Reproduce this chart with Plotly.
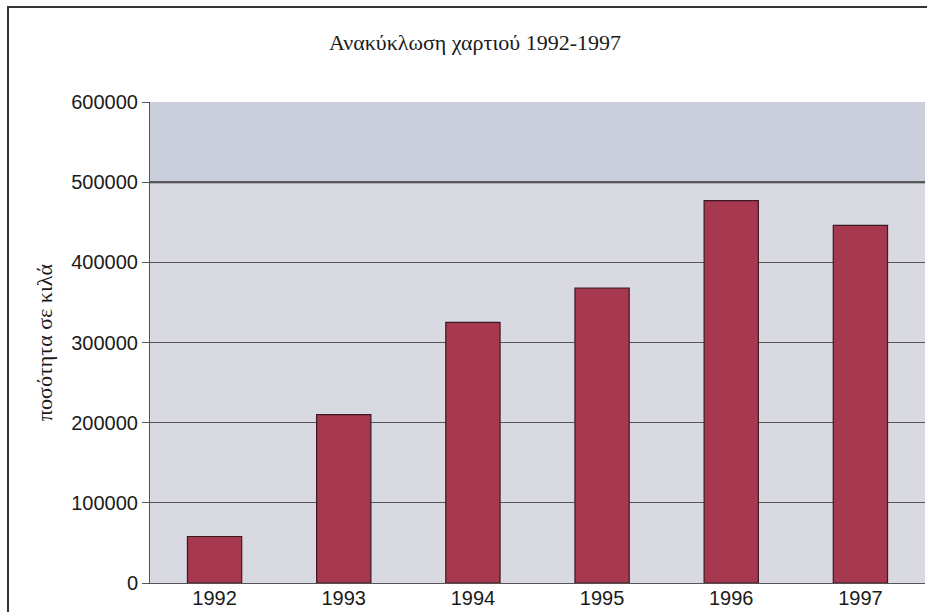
import plotly.graph_objects as go

years = ["1992", "1993", "1994", "1995", "1996", "1997"]
recycled_kg = [58000, 210000, 325000, 368000, 477000, 446000]
y_ticks = [0, 100000, 200000, 300000, 400000, 500000, 600000]

W, H = 927, 612
L, R, T, B = 150, 2, 102, 29
pw, ph = W - L - R, H - T - B

def px(x):
    return (x - L) / pw

def py(y):
    return (H - B - y) / ph

fig = go.Figure()
fig.add_trace(go.Bar(
    x=years, y=recycled_kg,
    marker=dict(color="#a6384f", line=dict(color="#3a1a22", width=1.2)),
    width=0.42,
))

shapes = [
    dict(type="rect", xref="paper", yref="y", x0=0, x1=1, y0=500000, y1=600000,
         fillcolor="#cbcfdb", line=dict(width=0), layer="below"),
    dict(type="line", xref="paper", yref="y", x0=0, x1=1, y0=500000, y1=500000,
         line=dict(color="#333333", width=2), layer="below"),
    dict(type="line", xref="paper", yref="paper", x0=px(8), x1=px(8), y0=py(7), y1=py(H + 5),
         line=dict(color="#333333", width=2)),
    dict(type="line", xref="paper", yref="paper", x0=px(7), x1=px(W + 5), y0=py(7), y1=py(7),
         line=dict(color="#333333", width=2)),
]

fig.update_layout(
    width=W, height=H,
    margin=dict(l=L, r=R, t=T, b=B),
    paper_bgcolor="white",
    plot_bgcolor="#d8d9e1",
    showlegend=False,
    title=dict(text="Ανακύκλωση χαρτιού 1992-1997", x=px(475), xanchor="center",
               xref="paper", y=1 - 42 / H, yanchor="middle", yref="container",
               font=dict(family="Liberation Serif", size=22, color="#1a1a1a")),
    shapes=shapes,
    bargap=0.58,
)
fig.update_xaxes(
    showgrid=False, showline=True, linecolor="#555555", linewidth=1,
    ticks="", ticklabelstandoff=-3,
    tickfont=dict(family="Liberation Sans", size=20, color="#1a1a1a"),
)
fig.update_yaxes(
    range=[0, 600000], tickvals=y_ticks, ticktext=[str(v) for v in y_ticks],
    showgrid=True, gridcolor="#555555", gridwidth=1,
    showline=True, linecolor="#555555", linewidth=1,
    ticks="outside", ticklen=7, tickcolor="#555555",
    tickfont=dict(family="Liberation Sans", size=20, color="#1a1a1a"),
    zeroline=False,
    title=dict(text="ποσότητα σε κιλά", standoff=12,
               font=dict(family="Liberation Serif", size=22, color="#1a1a1a")),
)

fig.write_html("out.html")
